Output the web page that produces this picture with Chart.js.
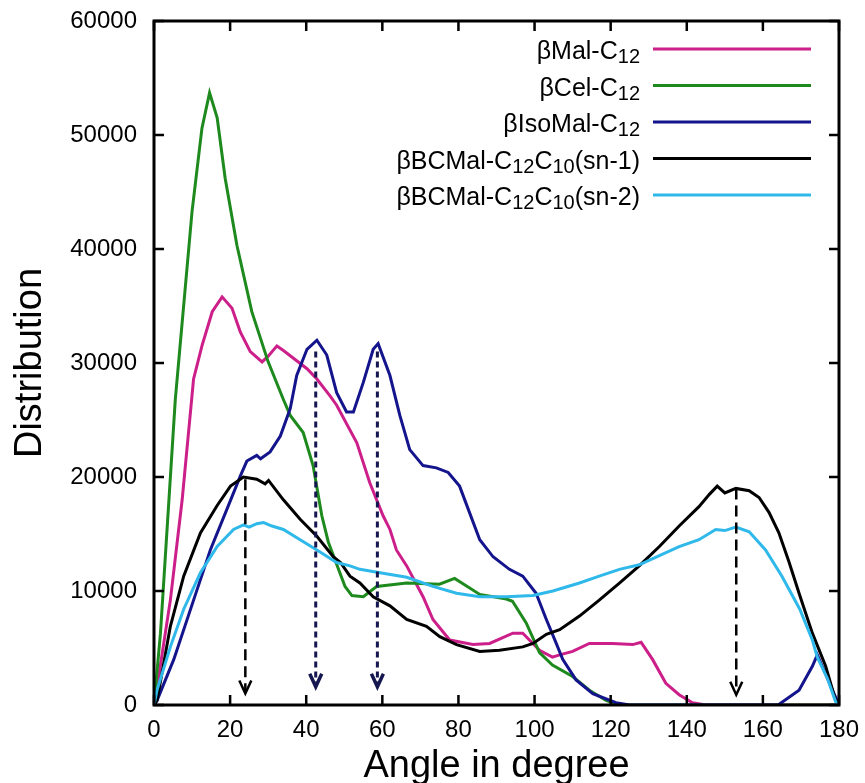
<!DOCTYPE html>
<html>
<head>
<meta charset="utf-8">
<script src="https://cdn.jsdelivr.net/npm/chart.js@4.4.0/dist/chart.umd.min.js"></script>
<style>
  html, body { margin: 0; padding: 0; background: #fff; }
</style>
</head>
<body>
<canvas id="myChart" width="865" height="783"></canvas>
<script>
// βMal-C12
var malAngle = [0, 1, 4.3, 7.4, 10.4, 12.6, 15.3, 17.9, 20.5, 22.7, 25.3, 28.4, 30, 32.3, 34, 37.5, 40.2, 42.8, 46.3, 48, 53.3, 56.7, 60.2, 62, 63.7, 66.4, 70.7, 73.3, 77.7, 83.8, 88.2, 94.3, 96.9, 101.3, 104.7, 106.6, 110, 114.4, 120.5, 125.8, 128, 131, 134.5, 138, 141.5, 145, 180];
var malDist = [0, 2000, 9200, 18000, 28600, 31500, 34500, 35800, 34800, 32700, 31000, 30100, 30600, 31500, 31100, 30200, 29500, 28600, 27100, 26300, 23000, 19500, 16600, 15400, 13600, 12200, 9500, 7500, 5700, 5300, 5400, 6300, 6300, 4800, 4200, 4400, 4700, 5400, 5400, 5300, 5500, 4000, 1900, 900, 200, 0, 0];

// βCel-C12
var celAngle = [0, 1.7, 5.6, 10, 12.6, 14.6, 16.6, 18.7, 21.8, 25.7, 30, 34, 35.8, 39.2, 41.8, 44.1, 45.8, 50.2, 52, 55, 58.5, 66.4, 75, 79, 85.6, 92.6, 94.2, 97.8, 101.3, 104.7, 110, 114.4, 118.8, 122, 180];
var celDist = [0, 6300, 26800, 43300, 50600, 53700, 51500, 46200, 40300, 34500, 30100, 26800, 25400, 23900, 21000, 16600, 14300, 10400, 9600, 9500, 10400, 10700, 10600, 11100, 9700, 9300, 9100, 7200, 4600, 3500, 2500, 1300, 400, 0, 0];

// βIsoMal-C12
var isoAngle = [0, 0.8, 5.2, 10.4, 14.8, 19.2, 22.7, 24.4, 27, 28, 30.5, 33.2, 35.8, 37.5, 40.2, 42.8, 45.4, 48, 50.6, 52.4, 55, 57.6, 58.9, 62, 64.6, 67.2, 70.7, 74.2, 77.3, 80.3, 82.1, 85.6, 89.1, 93.4, 96.9, 100.4, 103.1, 105.7, 107.4, 110.9, 115.3, 121.4, 125, 164, 169.5, 173, 174.3, 177, 180];
var isoDist = [0, 400, 4000, 9200, 13600, 17200, 20100, 21400, 21900, 21600, 22200, 23600, 26000, 28900, 31200, 32000, 30700, 27400, 25700, 25700, 28300, 31200, 31700, 28900, 25400, 22400, 21000, 20800, 20400, 19200, 17600, 14500, 13000, 11900, 11300, 9800, 7500, 5400, 4000, 2200, 1000, 200, 0, 0, 1300, 3400, 4400, 2300, 0];

// βBCMal-C12C10(sn-1)
var sn1Angle = [0, 0.8, 4.3, 7.8, 12.2, 16.6, 20.1, 23.5, 27, 29.2, 30.1, 34, 38.4, 42.8, 47.1, 49, 51.5, 54.1, 57.6, 62, 66.4, 71.6, 75.1, 79.5, 85.6, 90.8, 96.9, 99.6, 103.1, 106.6, 111.8, 117, 122.3, 127.5, 132.8, 138, 143.2, 146, 148, 150, 152.9, 156.4, 159, 161.6, 164.2, 166.8, 169.7, 173, 176.5, 179.1, 180];
var sn1Dist = [0, 400, 6900, 11300, 15100, 17500, 19200, 20000, 19800, 19400, 19700, 18000, 16300, 14800, 13000, 12500, 11300, 10700, 9500, 8700, 7500, 6900, 6000, 5300, 4700, 4800, 5100, 5400, 6200, 6600, 7800, 9200, 10700, 12200, 13900, 15700, 17400, 18500, 19200, 18600, 19000, 18800, 18200, 16900, 15100, 12600, 9600, 6300, 3400, 400, 0];

// βBCMal-C12C10(sn-2)
var sn2Angle = [0, 0.8, 4.3, 7.8, 12.2, 16.6, 20.9, 23.5, 25, 27, 28.8, 31, 34, 38.4, 42.8, 48, 51.5, 54.1, 59.4, 66.4, 73.3, 79.5, 85.6, 92.6, 99.6, 104.8, 111.8, 117, 122.3, 127.5, 132.8, 138, 143.2, 147.6, 150, 152.9, 156.4, 160.7, 165, 169.7, 173, 174.3, 177, 179.1, 180];
var sn2Dist = [0, 1300, 5100, 8400, 11600, 13900, 15400, 15800, 15600, 15900, 16000, 15700, 15400, 14500, 13600, 12500, 12200, 11900, 11600, 11200, 10400, 9800, 9500, 9500, 9600, 10000, 10700, 11300, 11900, 12300, 13100, 13900, 14500, 15400, 15300, 15600, 15200, 13600, 11300, 8400, 5700, 4200, 2300, 300, 0];

// dashed arrows marking the peaks
var arrowAngle = [24, 42.5, 58.7, 153];
var arrowTop = [19800, 31000, 31000, 19000];
var arrowTip = [1000, 1600, 1600, 900];

var xTicks = [0, 20, 40, 60, 80, 100, 120, 140, 160, 180];
var yTicks = [0, 10000, 20000, 30000, 40000, 50000, 60000];

var seriesNames = [
  [["βMal-C", 0], ["12", 1]],
  [["βCel-C", 0], ["12", 1]],
  [["βIsoMal-C", 0], ["12", 1]],
  [["βBCMal-C", 0], ["12", 1], ["C", 0], ["10", 1], ["(sn-1)", 0]],
  [["βBCMal-C", 0], ["12", 1], ["C", 0], ["10", 1], ["(sn-2)", 0]]
];
var seriesColors = ["#cc1f8a", "#1e8a1e", "#14148c", "#000000", "#2fb8ea"];
var arrowColors = ["#000000", "#161650", "#161650", "#000000"];

var FONT = "'Liberation Sans', Arial, sans-serif";

function pts(xs, ys) {
  return xs.map(function (x, i) { return { x: x, y: ys[i] }; });
}

var framePlugin = {
  id: "frame",
  afterDatasetsDraw: function (chart) {
    var ctx = chart.ctx;
    var a = chart.chartArea;
    var xs = chart.scales.x, ys = chart.scales.y;
    ctx.save();

    // arrows
    for (var i = 0; i < arrowAngle.length; i++) {
      var px = xs.getPixelForValue(arrowAngle[i]);
      var top = ys.getPixelForValue(arrowTop[i]);
      var tip = ys.getPixelForValue(arrowTip[i]);
      var navy = arrowColors[i] !== "#000000";
      ctx.strokeStyle = arrowColors[i];
      ctx.lineWidth = navy ? 3 : 2.5;
      ctx.setLineDash(navy ? [6, 4] : [11, 6]);
      ctx.beginPath();
      ctx.moveTo(px, top);
      ctx.lineTo(px, tip - 2);
      ctx.stroke();
      ctx.setLineDash([]);
      ctx.lineWidth = navy ? 3.5 : 2.5;
      ctx.beginPath();
      ctx.moveTo(px - 6, tip - 13);
      ctx.lineTo(px, tip);
      ctx.lineTo(px + 6, tip - 13);
      ctx.stroke();
    }

    // box and inward ticks
    ctx.strokeStyle = "#000";
    ctx.lineWidth = 3;
    ctx.strokeRect(a.left, a.top, a.right - a.left, a.bottom - a.top);
    ctx.lineWidth = 2.5;
    ctx.beginPath();
    xTicks.forEach(function (v) {
      var p = xs.getPixelForValue(v);
      ctx.moveTo(p, a.bottom); ctx.lineTo(p, a.bottom - 10);
      ctx.moveTo(p, a.top); ctx.lineTo(p, a.top + 10);
    });
    yTicks.forEach(function (v) {
      var p = ys.getPixelForValue(v);
      ctx.moveTo(a.left, p); ctx.lineTo(a.left + 10, p);
      ctx.moveTo(a.right, p); ctx.lineTo(a.right - 10, p);
    });
    ctx.stroke();

    // legend with subscripts
    ctx.textBaseline = "alphabetic";
    ctx.textAlign = "left";
    for (var k = 0; k < seriesNames.length; k++) {
      var ly = a.top + 28 + k * 36.5;
      var parts = seriesNames[k];
      var w = 0;
      parts.forEach(function (p) {
        ctx.font = (p[1] ? "20px " : "25px ") + FONT;
        w += ctx.measureText(p[0]).width;
      });
      var tx = a.right - 199 - w;
      ctx.fillStyle = "#000";
      parts.forEach(function (p) {
        ctx.font = (p[1] ? "20px " : "25px ") + FONT;
        ctx.fillText(p[0], tx, ly + (p[1] ? 14 : 10));
        tx += ctx.measureText(p[0]).width;
      });
      ctx.strokeStyle = seriesColors[k];
      ctx.lineWidth = 3;
      ctx.beginPath();
      ctx.moveTo(a.right - 186, ly);
      ctx.lineTo(a.right - 28, ly);
      ctx.stroke();
    }
    ctx.restore();
  }
};

var allX = [malAngle, celAngle, isoAngle, sn1Angle, sn2Angle];
var allY = [malDist, celDist, isoDist, sn1Dist, sn2Dist];
var datasets = allX.map(function (xs, i) {
  return {
    data: pts(xs, allY[i]),
    borderColor: seriesColors[i],
    backgroundColor: seriesColors[i],
    borderWidth: 3,
    pointRadius: 0,
    tension: 0,
    fill: false,
    order: 5 - i
  };
});

var ctx = document.getElementById("myChart").getContext("2d");
var myChart = new Chart(ctx, {
  type: "line",
  data: { datasets: datasets },
  options: {
    responsive: false,
    animation: false,
    layout: { padding: { left: 0, right: 26, top: 21, bottom: 0 } },
    plugins: { legend: { display: false }, tooltip: { enabled: false } },
    scales: {
      x: {
        type: "linear",
        min: 0,
        max: 180,
        afterBuildTicks: function (s) { s.ticks = xTicks.map(function (v) { return { value: v }; }); },
        afterFit: function (s) { s.height = 78; s.paddingLeft = 0; s.paddingRight = 0; },
        grid: { display: false, drawTicks: false },
        border: { display: false },
        ticks: { color: "#000", padding: 11, font: { family: FONT, size: 24 } },
        title: {
          display: true,
          text: "Angle in degree",
          color: "#000",
          font: { family: FONT, size: 38 },
          padding: { top: 0, bottom: -6 }
        }
      },
      y: {
        min: 0,
        max: 60000,
        afterBuildTicks: function (s) { s.ticks = yTicks.map(function (v) { return { value: v }; }); },
        afterFit: function (s) { s.width = 154; s.paddingTop = 0; s.paddingBottom = 0; },
        grid: { display: false, drawTicks: false },
        border: { display: false },
        ticks: {
          color: "#000",
          padding: 17,
          font: { family: FONT, size: 24 },
          callback: function (v) { return String(v); }
        },
        title: {
          display: true,
          text: "Distribution",
          color: "#000",
          font: { family: FONT, size: 38 },
          padding: { top: 8, bottom: 0 }
        }
      }
    }
  },
  plugins: [framePlugin]
});
</script>
</body>
</html>
